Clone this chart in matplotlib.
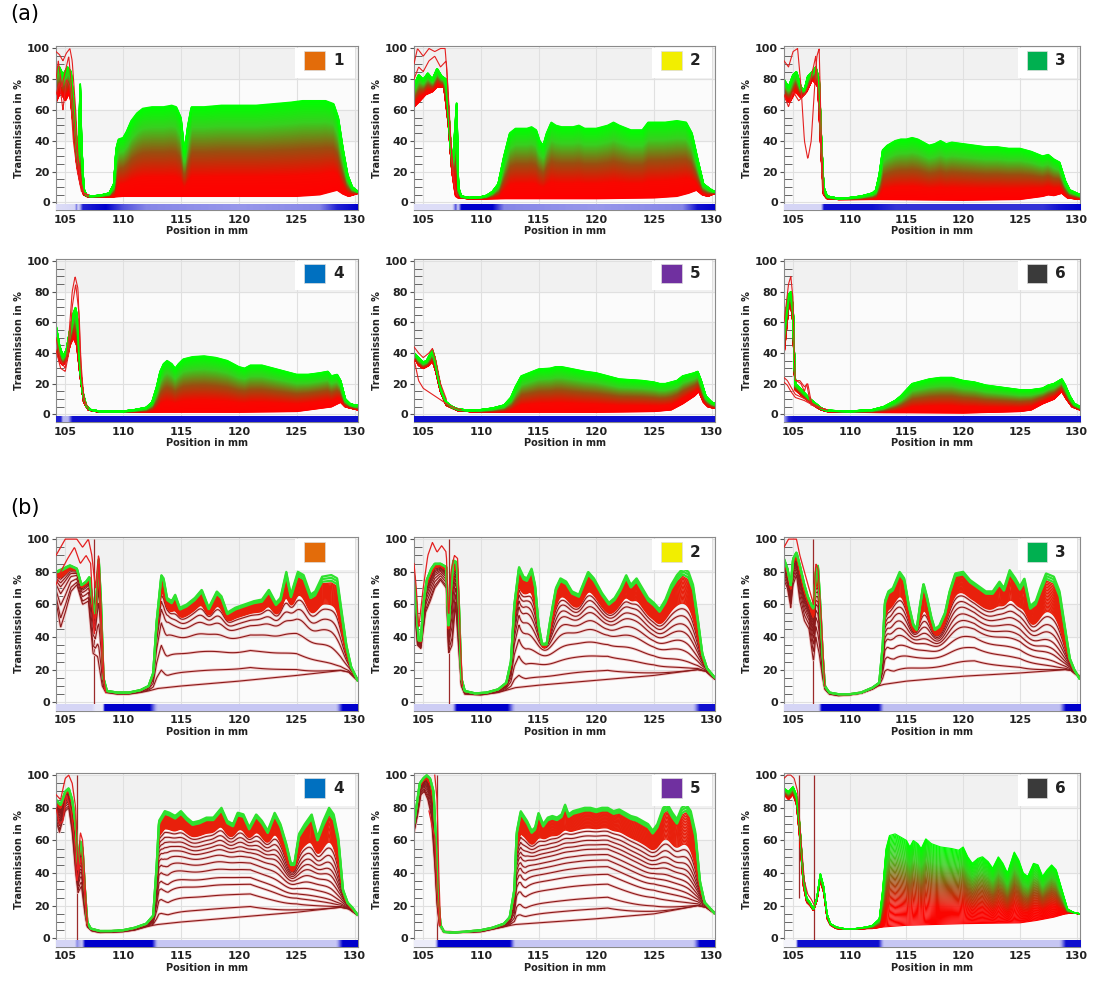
import numpy as np
import matplotlib
matplotlib.use("Agg")
import matplotlib.pyplot as plt
from matplotlib.collections import LineCollection
from matplotlib.colors import LinearSegmentedColormap
from matplotlib.patches import Rectangle
from matplotlib.ticker import MultipleLocator

# ---- data: (position mm, transmission %) knots ----
# top = last (green) curve, low = first curve, extra = stray red traces

A1_TOP = [(104.2, 88), (104.5, 88), (104.8, 83), (105.2, 88), (105.5, 85), (105.8, 60), (106.0, 38), (106.15, 30),
          (106.3, 80), (106.4, 40), (106.6, 9), (106.8, 5), (107.2, 4), (108.0, 4.5), (108.8, 6), (109.2, 12),
          (109.4, 35), (109.6, 41), (110.0, 42), (110.3, 46), (110.7, 53), (111.2, 58), (111.7, 61), (112.5, 62),
          (113.5, 62), (114.2, 63), (114.6, 62), (115.0, 55), (115.3, 33), (115.6, 50), (115.9, 62), (117.0, 62),
          (118.5, 63), (120.0, 63), (121.5, 63), (123.0, 64), (124.5, 65), (125.5, 66), (126.5, 66), (127.5, 66),
          (128.2, 64), (128.6, 55), (129.0, 35), (129.4, 18), (129.8, 10), (130.3, 7)]
A1_LOW = [(104.2, 65), (104.6, 72), (105.0, 66), (105.4, 72), (105.7, 50), (106.0, 25), (106.3, 12), (106.6, 5),
          (107.0, 3.5), (109.0, 3.5), (110.0, 4), (120.0, 4), (125.0, 4), (127.0, 5), (128.0, 7), (128.5, 8),
          (129.0, 5.5), (129.5, 4), (130.3, 6)]
A1_EXTRA = [
    [(104.2, 98), (104.5, 96), (104.8, 92), (105.1, 97), (105.4, 100), (105.6, 92), (105.9, 60), (106.1, 30),
     (106.3, 15), (106.6, 6), (107.0, 5)],
    [(104.2, 80), (104.4, 92), (104.7, 75), (105.0, 85), (105.3, 95), (105.6, 70), (105.9, 40), (106.2, 20),
     (106.5, 8)],
    [(104.2, 70), (104.5, 78), (104.8, 60), (105.1, 80), (105.4, 75), (105.7, 40), (106.0, 22), (106.4, 7),
     (107.0, 4)],
]
A1_BAR = [(104.2, 0.15), (105.8, 0.2), (105.95, 0.7), (106.1, 0.2), (106.5, 0.9), (108.5, 1.0), (110.0, 0.75),
          (112.0, 0.6), (120.0, 0.55), (127.0, 0.6), (128.5, 0.9), (130.3, 1.0)]

A2_TOP = [(104.2, 76), (104.6, 83), (105.0, 80), (105.4, 84), (105.8, 80), (106.2, 87), (106.6, 82), (107.0, 80),
          (107.2, 60), (107.4, 35), (107.6, 30), (107.9, 65), (108.05, 10), (108.3, 4), (109.0, 3), (110.0, 3.5),
          (110.5, 4.5), (111.0, 7), (111.5, 12), (112.0, 30), (112.5, 45), (113.0, 48), (114.0, 48), (114.4, 49),
          (114.8, 47), (115.1, 40), (115.4, 37), (115.7, 45), (116.1, 52), (116.5, 50), (117.0, 49), (118.0, 49),
          (118.5, 50), (119.0, 48), (120.0, 48), (121.0, 50), (121.5, 52), (122.0, 50), (123.0, 47), (124.0, 47),
          (124.5, 52), (125.0, 52), (126.0, 52), (127.0, 53), (127.8, 52), (128.3, 45), (128.8, 28), (129.3, 12),
          (130.0, 8), (130.3, 7)]
A2_LOW = [(104.2, 62), (104.6, 65), (105.2, 70), (105.8, 72), (106.2, 75), (106.8, 75), (107.2, 50), (107.5, 20),
          (107.8, 4), (108.0, 3), (109.0, 2.5), (112.0, 2.5), (120.0, 2.5), (125.0, 3), (127.0, 4), (128.0, 6),
          (128.7, 8), (129.2, 5), (129.7, 4), (130.3, 6)]
A2_EXTRA = [
    [(104.2, 90), (104.5, 100), (105.0, 95), (105.5, 100), (106.0, 98), (106.5, 100), (106.9, 100), (107.1, 80),
     (107.4, 40), (107.7, 10), (108.0, 4)],
    [(104.2, 80), (104.6, 88), (105.0, 85), (105.5, 92), (106.0, 95), (106.5, 88), (107.0, 92), (107.3, 50),
     (107.6, 15), (107.9, 5)],
]
A2_BAR = [(104.2, 0.15), (107.5, 0.15), (107.8, 0.8), (108.0, 0.3), (108.3, 1.0), (111.0, 1.0), (112.0, 0.6),
          (120.0, 0.55), (127.5, 0.6), (128.8, 0.95), (130.3, 1.0)]

A3_TOP = [(104.2, 80), (104.6, 75), (105.0, 83), (105.3, 85), (105.7, 75), (106.0, 73), (106.3, 82), (106.7, 85),
          (107.0, 88), (107.3, 80), (107.5, 40), (107.7, 10), (108.0, 4), (109.0, 2.5), (110.0, 3), (111.0, 4),
          (112.0, 6), (112.3, 8), (112.6, 18), (112.9, 34), (113.3, 37), (114.0, 40), (114.5, 41), (115.0, 41),
          (115.5, 42), (116.0, 41), (116.5, 39), (117.0, 37), (117.5, 38), (118.0, 40), (118.5, 38), (119.0, 39),
          (120.0, 38), (121.0, 37), (122.0, 36), (123.0, 36), (124.0, 35), (125.0, 35), (126.0, 33), (127.0, 30),
          (127.5, 31), (128.0, 28), (128.5, 26), (129.0, 14), (129.4, 8), (130.0, 6), (130.3, 5)]
A3_LOW = [(104.2, 68), (104.7, 65), (105.2, 72), (105.7, 68), (106.2, 72), (106.7, 80), (107.2, 75), (107.5, 30),
          (107.7, 5), (108.0, 2.5), (109.0, 2), (112.0, 2), (120.0, 1.5), (125.0, 2), (127.0, 4), (127.5, 5),
          (128.0, 4.5), (128.7, 6), (129.2, 3), (130.3, 2)]
A3_EXTRA = [
    [(104.2, 92), (104.6, 88), (105.0, 98), (105.4, 100), (105.7, 75), (106.0, 40), (106.3, 28), (106.6, 40),
     (106.9, 75), (107.1, 95), (107.3, 100), (107.5, 40), (107.7, 5)],
    [(104.2, 70), (104.6, 62), (105.0, 72), (105.5, 66), (106.0, 70), (106.5, 78), (107.0, 95), (107.3, 60),
     (107.6, 8)],
]
A3_BAR = [(104.2, 0.2), (107.4, 0.2), (107.7, 0.95), (112.0, 0.95), (114.0, 0.85), (127.0, 0.85), (128.5, 0.95),
          (130.3, 1.0)]

A4_TOP = [(104.2, 58), (104.5, 45), (104.8, 38), (105.1, 42), (105.4, 55), (105.7, 66), (105.9, 70), (106.1, 60),
          (106.3, 30), (106.5, 15), (106.8, 6), (107.2, 3), (108.0, 2), (110.0, 2), (111.0, 3), (112.0, 4.5),
          (112.5, 8), (112.9, 18), (113.2, 28), (113.5, 33), (113.8, 35), (114.2, 33), (114.5, 30), (114.8, 33),
          (115.2, 36), (116.0, 37.5), (117.0, 38), (118.0, 37), (119.0, 35), (120.0, 31), (120.5, 30), (121.0, 32),
          (122.0, 32), (123.0, 30), (124.0, 28), (125.0, 26), (126.0, 26), (127.0, 27), (127.7, 28), (128.0, 25),
          (128.5, 26), (128.8, 22), (129.2, 10), (129.6, 7), (130.0, 6), (130.3, 6)]
A4_LOW = [(104.2, 45), (104.5, 35), (104.8, 32), (105.1, 35), (105.4, 45), (105.7, 50), (106.0, 45), (106.3, 25),
          (106.6, 8), (107.0, 3), (108.0, 1.5), (112.0, 1.5), (120.0, 1.5), (125.0, 2), (127.0, 4), (128.0, 5),
          (128.8, 8), (129.2, 5), (130.3, 3)]
A4_EXTRA = [
    [(104.2, 50), (104.6, 35), (105.0, 30), (105.3, 50), (105.6, 80), (105.85, 90), (106.1, 82), (106.3, 40),
     (106.6, 10), (107.0, 4)],
    [(104.2, 42), (104.6, 30), (105.0, 28), (105.3, 40), (105.6, 70), (105.9, 85), (106.2, 65), (106.4, 25),
     (106.7, 6)],
]
A4_BAR = [(104.2, 0.9), (104.6, 0.9), (104.8, 0.4), (105.2, 0.4), (105.6, 0.95), (130.3, 0.95)]

A5_TOP = [(104.2, 40), (104.6, 37), (105.0, 34), (105.3, 35), (105.5, 38), (105.8, 42), (106.0, 37), (106.3, 25),
          (106.6, 15), (107.0, 8), (107.5, 5), (108.0, 3.5), (109.0, 2.5), (110.0, 3), (111.0, 4), (112.0, 6),
          (112.6, 11), (113.0, 18), (113.5, 25), (114.5, 28), (115.0, 29.5), (116.0, 30), (116.5, 31), (117.0, 31),
          (118.0, 29.5), (119.0, 28), (120.0, 27), (121.0, 25), (122.0, 23), (123.0, 22.5), (124.0, 22), (125.0, 21),
          (125.5, 20), (126.0, 20), (126.5, 21), (127.0, 22), (127.5, 25), (128.0, 26), (128.5, 27), (128.8, 28),
          (129.1, 22), (129.5, 12), (130.0, 8), (130.3, 7)]
A5_LOW = [(104.2, 38), (104.6, 32), (105.0, 30), (105.5, 32), (105.8, 35), (106.1, 28), (106.5, 15), (107.0, 6),
          (108.0, 2.5), (110.0, 1.5), (115.0, 1.5), (120.0, 1.5), (125.0, 2), (126.5, 3), (127.5, 7), (128.5, 12),
          (128.9, 15), (129.3, 8), (129.7, 5), (130.3, 4)]
A5_EXTRA = [
    [(104.2, 36), (104.6, 22), (105.0, 17), (105.6, 14), (106.2, 11), (106.8, 8), (107.2, 6), (107.8, 4),
     (108.3, 3)],
    [(104.2, 44), (104.6, 40), (105.0, 37), (105.5, 40), (105.8, 43), (106.1, 35), (106.5, 20), (107.0, 10)],
]
A5_BAR = [(104.2, 0.95), (130.3, 0.95)]

A6_TOP = [(104.2, 55), (104.4, 68), (104.6, 78), (104.8, 80), (105.0, 70), (105.1, 40), (105.2, 20), (105.5, 18),
          (106.0, 14), (106.5, 10), (107.0, 7), (107.5, 4), (108.0, 2.5), (110.0, 2), (112.0, 3), (113.0, 5),
          (114.0, 9), (114.5, 12), (115.0, 16), (115.5, 20), (116.0, 21), (117.0, 23), (118.0, 24), (119.0, 24),
          (120.0, 22), (121.0, 21), (122.0, 19), (123.0, 18), (124.0, 17), (125.0, 16), (126.0, 16), (127.0, 17),
          (127.5, 19), (128.0, 20), (128.7, 23), (129.0, 19), (129.4, 12), (129.8, 7), (130.3, 5)]
A6_LOW = [(104.2, 40), (104.4, 55), (104.6, 70), (104.8, 72), (105.0, 60), (105.1, 35), (105.2, 16), (105.5, 14),
          (106.0, 11), (106.5, 8), (107.0, 5), (107.5, 3), (108.0, 2), (110.0, 1.5), (120.0, 1), (125.0, 2),
          (126.0, 3), (127.0, 7), (128.0, 10), (128.7, 15), (129.1, 10), (129.6, 5), (130.3, 3)]
A6_EXTRA = [
    [(104.2, 60), (104.4, 72), (104.6, 85), (104.8, 90), (105.0, 75), (105.1, 40), (105.2, 22), (105.6, 22),
     (106.0, 18), (106.3, 20), (106.5, 12), (106.7, 6), (107.0, 5)],
    [(104.2, 24), (104.5, 22), (104.8, 18), (105.2, 13), (105.8, 11), (106.5, 8), (107.0, 6), (107.5, 4),
     (108.0, 3)],
    [(104.2, 21), (104.5, 19), (104.8, 15), (105.2, 11), (106.0, 9), (107.0, 5), (108.0, 3)],
    [(105.3, 22), (105.7, 20), (106.0, 15), (106.2, 20), (106.4, 12), (106.6, 6)],
]
A6_BAR = [(104.2, 0.5), (104.6, 0.9), (105.0, 0.95), (130.3, 0.95)]

B1_TOP = [(104.2, 80), (104.8, 82), (105.4, 84), (106.0, 82), (106.4, 72), (106.8, 74), (107.1, 77), (107.4, 60),
          (107.6, 55), (107.9, 88), (108.1, 60), (108.3, 15), (108.6, 7), (109.5, 6), (110.5, 6), (111.5, 7.5),
          (112.2, 10), (112.6, 18), (112.9, 50), (113.3, 78), (113.5, 76), (113.8, 64), (114.2, 62), (114.5, 66),
          (114.9, 58), (115.5, 60), (116.2, 64), (116.8, 69), (117.4, 58), (118.1, 68), (118.5, 65), (119.0, 55),
          (119.7, 58), (120.5, 60), (121.3, 62), (122.0, 63), (122.6, 69), (123.2, 61), (123.6, 64), (124.1, 80),
          (124.5, 66), (125.1, 80), (125.6, 78), (126.2, 66), (126.6, 68), (127.2, 77), (128.0, 78), (128.5, 76),
          (128.9, 55), (129.3, 35), (129.7, 22), (130.3, 13)]
B1_LOW = [(104.2, 62), (104.6, 46), (105.0, 55), (105.5, 68), (106.0, 72), (106.5, 60), (107.0, 62), (107.4, 30),
          (107.8, 28), (108.2, 10), (108.5, 6), (109.5, 5), (110.5, 5), (111.5, 6), (112.2, 7), (113.0, 8.5),
          (115.0, 10), (120.0, 13), (125.0, 16.5), (128.8, 19.5), (129.5, 18.5), (130.3, 13)]
B1_EXTRA = [
    [(104.2, 90), (104.6, 95), (105.0, 100), (105.5, 100), (106.0, 100), (106.5, 95), (107.0, 100), (107.3, 90),
     (107.6, 70), (107.9, 92), (108.2, 40), (108.4, 8)],
    [(104.2, 72), (104.6, 80), (105.2, 88), (105.8, 95), (106.3, 85), (106.8, 90), (107.2, 85), (107.5, 40),
     (107.9, 85), (108.2, 20), (108.5, 6)],
]
B1_LEVELS = [0, 0.16, 0.38, 0.58, 0.70, 0.77, 0.83]
B1_VLINES = [(107.5, -3)]
B1_BAR = [(104.2, 0.2), (107.3, 0.2), (107.6, 0.08), (108.2, 0.08), (108.4, 1.0), (112.3, 1.0), (113.0, 0.3),
          (128.4, 0.3), (129.0, 1.0), (130.3, 1.0)]

B2_TOP = [(104.2, 78), (104.4, 60), (104.6, 38), (104.8, 38), (105.0, 60), (105.3, 75), (105.7, 82), (106.0, 85),
          (106.5, 85), (107.0, 83), (107.2, 45), (107.4, 70), (107.6, 87), (107.9, 86), (108.1, 60), (108.3, 15),
          (108.6, 7), (109.5, 5.5), (110.5, 6), (111.5, 8), (112.2, 12), (112.6, 25), (112.9, 60), (113.3, 83),
          (113.7, 77), (114.0, 76), (114.4, 82), (114.7, 72), (115.0, 48), (115.3, 36), (115.7, 36), (116.0, 50),
          (116.5, 70), (116.9, 76), (117.4, 74), (117.9, 68), (118.5, 66), (119.3, 80), (119.8, 76), (120.5, 67),
          (121.1, 61), (121.6, 64), (122.1, 70), (122.6, 78), (123.0, 72), (123.5, 76), (124.0, 70), (124.5, 64),
          (125.0, 61), (125.5, 57), (126.0, 63), (126.5, 72), (127.0, 78), (127.5, 82), (128.0, 80), (128.4, 72),
          (128.8, 52), (129.2, 30), (129.6, 21), (130.3, 15)]
B2_LOW = [(104.2, 60), (104.5, 35), (104.8, 33), (105.2, 55), (105.6, 62), (106.0, 70), (106.5, 75), (107.0, 70),
          (107.2, 30), (107.5, 35), (107.8, 60), (108.1, 30), (108.3, 10), (108.6, 5), (110.0, 4.5), (111.5, 6),
          (112.5, 8), (113.0, 9), (115.0, 10.5), (120.0, 13.5), (125.0, 16.5), (128.8, 20), (129.5, 19), (130.3, 14)]
B2_EXTRA = [
    [(104.2, 85), (104.4, 70), (104.6, 45), (105.0, 70), (105.4, 90), (105.8, 98), (106.2, 92), (106.6, 96),
     (107.0, 92), (107.2, 50), (107.4, 80), (107.7, 90), (108.0, 88), (108.2, 40), (108.4, 10)],
]
B2_LEVELS = [0, 0.1, 0.26, 0.4, 0.52, 0.6, 0.67, 0.72, 0.77, 0.81]
B2_VLINES = [(107.25, -3)]
B2_BAR = [(104.2, 0.25), (107.5, 0.25), (107.9, 1.0), (112.3, 1.0), (113.0, 0.3), (128.4, 0.3), (129.0, 0.95),
          (130.3, 0.95)]

B3_TOP = [(104.2, 88), (104.5, 82), (104.8, 72), (105.0, 88), (105.3, 92), (105.6, 84), (106.0, 72), (106.3, 65),
          (106.6, 60), (106.8, 58), (107.0, 80), (107.2, 84), (107.4, 60), (107.6, 30), (107.8, 10), (108.2, 6),
          (109.0, 5), (110.0, 5), (111.0, 6), (112.0, 9), (112.6, 12), (112.9, 35), (113.1, 62), (113.4, 68),
          (113.8, 70), (114.4, 80), (114.8, 76), (115.2, 60), (115.6, 48), (115.9, 45), (116.2, 60), (116.5, 73),
          (116.8, 65), (117.2, 52), (117.5, 45), (117.9, 47), (118.4, 55), (118.8, 68), (119.3, 79), (120.0, 80),
          (120.6, 75), (121.4, 71), (122.0, 68), (122.6, 68), (123.2, 74), (123.6, 70), (124.1, 81), (124.6, 76),
          (125.0, 71), (125.4, 76), (125.9, 59), (126.4, 62), (126.8, 70), (127.3, 79), (128.0, 77), (128.5, 68),
          (129.0, 45), (129.4, 27), (129.8, 20), (130.3, 14)]
B3_LOW = [(104.2, 75), (104.5, 70), (104.8, 58), (105.0, 72), (105.3, 78), (105.6, 62), (106.0, 50), (106.4, 45),
          (106.8, 25), (107.0, 40), (107.3, 30), (107.6, 15), (107.8, 8), (108.2, 5), (109.0, 4), (110.0, 4.5),
          (111.0, 5.5), (112.0, 8), (112.5, 10), (113.0, 11), (115.0, 13), (120.0, 16), (125.0, 18), (129.0, 20),
          (129.5, 19.5), (130.3, 15)]
B3_EXTRA = [
    [(104.2, 95), (104.6, 100), (105.0, 100), (105.3, 100), (105.6, 90), (106.0, 80), (106.4, 70), (106.8, 60),
     (107.0, 85), (107.2, 82), (107.5, 50), (107.8, 10)],
]
B3_LEVELS = [0, 0.16, 0.3, 0.41, 0.5, 0.56, 0.62, 0.68, 0.73, 0.78]
B3_VLINES = [(106.8, -3)]
B3_BAR = [(104.2, 0.2), (107.2, 0.2), (107.5, 1.0), (112.5, 1.0), (113.0, 0.35), (128.4, 0.35), (129.0, 1.0),
          (130.3, 1.0)]

B4_TOP = [(104.2, 85), (104.6, 82), (105.0, 90), (105.3, 92), (105.6, 85), (105.9, 70), (106.1, 45), (106.3, 60),
          (106.5, 55), (106.7, 30), (106.9, 10), (107.2, 6), (108.0, 4.5), (109.0, 4.5), (110.0, 5), (111.0, 6.5),
          (112.0, 9), (112.6, 14), (112.9, 45), (113.1, 72), (113.6, 78), (114.0, 77), (114.5, 75), (115.0, 78),
          (115.5, 74), (116.0, 71), (116.6, 72), (117.2, 74), (117.8, 74), (118.5, 80), (119.0, 72), (119.5, 70),
          (119.9, 77), (120.4, 76), (120.9, 68), (121.5, 76), (122.0, 72), (122.5, 66), (123.1, 77), (123.6, 70),
          (124.1, 58), (124.5, 46), (124.8, 46), (125.2, 64), (125.7, 70), (126.3, 76), (126.8, 62), (127.3, 72),
          (127.8, 80), (128.2, 76), (128.6, 62), (129.0, 30), (129.4, 22), (129.8, 19), (130.3, 14)]
B4_LOW = [(104.2, 72), (104.5, 65), (105.0, 78), (105.3, 80), (105.6, 65), (105.9, 40), (106.1, 28), (106.4, 32),
          (106.7, 15), (106.9, 7), (107.3, 4.5), (108.0, 3.5), (110.0, 4), (111.0, 5), (112.0, 7), (112.6, 8),
          (113.0, 8.5), (115.0, 10), (120.0, 13), (125.0, 16), (128.8, 19), (129.5, 18), (130.3, 14)]
B4_EXTRA = [
    [(104.2, 88), (104.6, 85), (105.0, 98), (105.3, 100), (105.6, 95), (105.9, 80), (106.1, 40), (106.3, 65),
     (106.5, 60), (106.7, 35), (106.9, 10)],
    [(104.2, 80), (104.5, 70), (104.8, 72), (105.1, 88), (105.5, 78), (105.8, 60), (106.0, 35), (106.4, 50),
     (106.7, 25), (106.9, 8)],
]
B4_LEVELS = [0, 0.1, 0.23, 0.33, 0.4, 0.48, 0.55, 0.61, 0.66, 0.7, 0.74, 0.78, 0.82]
B4_VLINES = [(106.0, -3)]
B4_BAR = [(104.2, 0.2), (105.8, 0.2), (106.0, 0.6), (106.4, 0.3), (106.7, 1.0), (112.5, 1.0), (113.0, 0.3),
          (128.4, 0.3), (129.0, 1.0), (130.3, 1.0)]

B5_TOP = [(104.2, 70), (104.4, 80), (104.7, 95), (105.0, 98), (105.3, 100), (105.6, 98), (105.9, 90), (106.1, 60),
          (106.3, 25), (106.5, 8), (106.8, 4), (107.5, 3.5), (108.5, 4), (110.0, 5), (111.0, 6.5), (112.0, 9),
          (112.5, 13), (112.9, 30), (113.1, 65), (113.45, 78), (114.0, 72), (114.4, 66), (114.7, 68), (115.0, 77),
          (115.4, 70), (115.8, 74), (116.2, 75), (116.6, 74), (117.0, 76), (117.3, 82), (117.6, 76), (118.0, 78),
          (118.5, 79), (119.0, 80), (119.5, 80), (120.0, 79), (120.5, 80), (121.0, 80), (121.5, 78), (122.0, 79),
          (122.5, 77), (123.0, 75), (123.5, 74), (124.0, 72), (124.5, 70), (124.9, 66), (125.3, 70), (125.8, 80),
          (126.2, 82), (126.6, 77), (127.0, 73), (127.4, 80), (127.8, 82), (128.2, 78), (128.6, 65), (129.0, 35),
          (129.4, 22), (129.8, 19), (130.3, 15)]
B5_LOW = [(104.2, 65), (104.5, 75), (104.8, 88), (105.1, 90), (105.4, 85), (105.7, 75), (106.0, 45), (106.2, 20),
          (106.4, 8), (106.8, 4), (108.0, 3.5), (110.0, 4), (111.0, 5.5), (112.0, 7), (112.6, 8), (113.0, 8.5),
          (115.0, 9.5), (120.0, 12), (125.0, 15), (128.8, 20), (129.5, 19), (130.3, 15)]
B5_EXTRA = [
    [(105.5, 78), (105.8, 68), (106.0, 62), (106.2, 30), (106.4, 8)],
    [(106.0, 100), (106.2, 85), (106.35, 40), (106.5, 8)],
]
B5_LEVELS = [0, 0.09, 0.19, 0.31, 0.4, 0.47, 0.53, 0.58, 0.63, 0.67, 0.71, 0.75, 0.79]
B5_VLINES = [(106.2, -3)]
B5_BAR = [(104.2, 0.05), (106.0, 0.05), (106.3, 1.0), (112.5, 1.0), (113.0, 0.3), (128.4, 0.3), (129.0, 1.0),
          (130.3, 1.0)]

B6_TOP = [(104.2, 92), (104.6, 90), (105.0, 93), (105.3, 88), (105.6, 70), (105.9, 40), (106.2, 25), (106.5, 22),
          (106.8, 18), (107.1, 25), (107.4, 40), (107.7, 32), (108.0, 15), (108.3, 9), (108.8, 7), (109.5, 6),
          (110.5, 6), (111.5, 7), (112.0, 8), (112.6, 12), (112.9, 30), (113.2, 55), (113.5, 63), (114.0, 64),
          (114.5, 62), (115.0, 60), (115.3, 56), (115.6, 60), (116.0, 58), (116.3, 55), (116.7, 61), (117.2, 58),
          (118.0, 56), (119.0, 55), (119.6, 54), (120.0, 56), (120.4, 50), (120.8, 46), (121.3, 49), (121.7, 50),
          (122.2, 47), (122.6, 43), (123.1, 50), (123.5, 46), (123.9, 40), (124.5, 53), (124.9, 48), (125.3, 40),
          (125.7, 38), (126.2, 46), (126.6, 45), (127.0, 38), (127.4, 42), (127.8, 45), (128.2, 42), (128.7, 30),
          (129.2, 18), (129.7, 16), (130.3, 15)]
B6_LOW = [(104.2, 88), (104.6, 85), (105.0, 88), (105.3, 82), (105.6, 60), (105.9, 32), (106.2, 22), (106.5, 20),
          (106.8, 17), (107.1, 23), (107.4, 35), (107.7, 28), (108.0, 12), (108.3, 8), (108.8, 6), (109.5, 5.5),
          (110.5, 5.5), (111.5, 6), (112.0, 6), (113.0, 7), (115.0, 8), (120.0, 9), (125.0, 9.5), (126.5, 11),
          (128.0, 13), (129.0, 15), (129.6, 15.5), (130.3, 15)]
B6_EXTRA = [
    [(104.2, 98), (104.5, 100), (104.8, 100), (105.1, 98), (105.4, 90), (105.7, 60), (106.0, 35), (106.3, 27),
     (106.6, 24), (106.9, 20)],
]
B6_VLINES = [(105.5, 25), (106.85, -3)]
B6_BAR = [(104.2, 0.0), (105.2, 0.0), (105.4, 0.95), (112.5, 0.95), (113.0, 0.3), (128.4, 0.3), (129.0, 0.95),
          (130.3, 0.95)]

# curves above the first one drift back toward it on the right side (b panels)
B_SKEW = [(104.2, 1.0), (121.0, 1.0), (125.0, 1.5), (128.0, 2.4), (129.5, 3.0), (130.3, 3.0)]

SAMPLE_COLORS = ["#E36C0A", "#F2EE00", "#00B050", "#0070C0", "#7030A0", "#3A3A3A"]
SAMPLE_NUMBERS = ["1", "2", "3", "4", "5", "6"]

XMIN, XMAX = 104.2, 130.3
YMIN, YMAX = -5.3, 101.3
BAR_TOP = -1.6
XS = np.linspace(XMIN, XMAX, 700)

RG_CMAP = LinearSegmentedColormap.from_list(
    "rg", [(0.0, "#ff0000"), (0.22, "#f80800"), (0.5, "#9a5010"), (0.78, "#38d020"), (1.0, "#00ff00")])
BAR_CMAP = LinearSegmentedColormap.from_list("bar", ["#f4f4fb", "#a8a8ee", "#0000cc"])


def knots(pairs, xs=XS):
    kx, ky = zip(*pairs)
    return np.interp(xs, kx, ky)


def smooth(y, sigma):
    if sigma < 0.05:
        return y
    dx = XS[1] - XS[0]
    half = int(3 * sigma / dx)
    k = np.exp(-0.5 * ((np.arange(-half, half + 1) * dx) / sigma) ** 2)
    k /= k.sum()
    return np.convolve(np.pad(y, half, mode="edge"), k, mode="valid")


def draw_extras(ax, extras, color, lw):
    for ex in extras:
        ex_x = np.linspace(ex[0][0], ex[-1][0], 80)
        ax.plot(ex_x, knots(ex, ex_x), color=color, lw=lw, zorder=3)


def gradient_family(ax, top, low, n, lw):
    t = knots(top)
    lo = knots(low)
    w = np.linspace(0, 1, n)
    segs = [np.column_stack([XS, lo + wi * (t - lo)]) for wi in w]
    ax.add_collection(LineCollection(segs, colors=RG_CMAP(w), linewidths=lw, zorder=2))


def spread_family(ax, top, low, levels):
    t = knots(top)
    lo = knots(low)
    p = knots(B_SKEW)
    # lower curves follow a smoothed version of the last curve on the plateau
    m = np.clip((XS - 113.3) / 0.6, 0, 1)

    def curve(wi):
        ts = t * (1 - m) + smooth(t, 1.4 * (1 - wi)) * m
        return lo + (wi ** p) * (ts - lo)

    dark = [np.column_stack([XS, curve(wi)]) for wi in levels]
    ax.add_collection(LineCollection(dark, colors="#f2c4c4", linewidths=2.0, zorder=2))
    ax.add_collection(LineCollection(dark, colors="#8b1a1a", linewidths=0.8, zorder=2.1))
    dense = np.linspace(levels[-1] + 0.03, 0.965, 22)
    red = [np.column_stack([XS, curve(wi)]) for wi in dense]
    ax.add_collection(LineCollection(red, colors="#e8200c", linewidths=1.0, zorder=2.2))
    green = [np.column_stack([XS, curve(wi)]) for wi in (0.975, 0.988, 1.0)]
    ax.add_collection(LineCollection(green, colors="#2fe22f", linewidths=1.6, zorder=2.3))


def style_axes(ax, idx, label_num):
    ax.set_xlim(XMIN, XMAX)
    ax.set_ylim(YMIN, YMAX)
    ax.set_facecolor("#fbfbfb")
    ax.axhspan(80, 100, color="#f1f1f1", zorder=0)
    ax.axhspan(40, 60, color="#f4f4f4", zorder=0)
    ax.set_axisbelow(True)
    ax.grid(True, which="major", color="#e0e0e0", lw=0.8)
    ax.set_xticks([105, 110, 115, 120, 125, 130])
    ax.set_yticks([0, 20, 40, 60, 80, 100])
    ax.yaxis.set_minor_locator(MultipleLocator(5))
    ax.tick_params(axis="x", length=0, pad=3, labelsize=8, labelcolor="#222222")
    ax.tick_params(axis="y", which="major", length=3, width=0.8, pad=1.5, labelsize=8,
                   labelcolor="#222222", color="#555555")
    ax.tick_params(axis="y", which="minor", direction="in", length=6, width=0.7, color="#666666")
    for lab in ax.get_xticklabels() + ax.get_yticklabels():
        lab.set_fontweight("bold")
    for sp in ax.spines.values():
        sp.set_color("#8a8a8a")
        sp.set_linewidth(0.8)
    ax.set_xlabel("Position in mm", fontsize=7, fontweight="bold", labelpad=1, color="#222222")
    ax.set_ylabel("Transmission in %", fontsize=7, fontweight="bold", labelpad=2, color="#222222")

    # sample legend box
    ax.add_patch(Rectangle((0.79, 0.81), 0.2, 0.18, transform=ax.transAxes, fc="white", ec="none", zorder=6))
    ax.add_patch(Rectangle((0.82, 0.855), 0.07, 0.115, transform=ax.transAxes,
                           fc=SAMPLE_COLORS[idx], ec="#dddddd", lw=0.5, zorder=7))
    if label_num:
        ax.text(0.935, 0.912, SAMPLE_NUMBERS[idx], transform=ax.transAxes, ha="center", va="center",
                fontsize=11, fontweight="bold", color="#222222", zorder=8)


def draw_bar(ax, bar):
    v = knots(bar, np.linspace(XMIN, XMAX, 600))
    img = np.vstack([v, v])
    ax.imshow(img, extent=[XMIN, XMAX, YMIN, BAR_TOP], aspect="auto", cmap=BAR_CMAP,
              vmin=0, vmax=1, interpolation="bilinear", zorder=5)
    ax.set_xlim(XMIN, XMAX)
    ax.set_ylim(YMIN, YMAX)


W, H = 1094, 988
COL_L = [56, 414, 784]
COL_W = [302, 301, 296]
ROW_T = [46.5, 259, 537, 773]
ROW_B = [210.5, 422.5, 711, 947]

A_PANELS = [
    (A1_TOP, A1_LOW, A1_EXTRA, A1_BAR),
    (A2_TOP, A2_LOW, A2_EXTRA, A2_BAR),
    (A3_TOP, A3_LOW, A3_EXTRA, A3_BAR),
    (A4_TOP, A4_LOW, A4_EXTRA, A4_BAR),
    (A5_TOP, A5_LOW, A5_EXTRA, A5_BAR),
    (A6_TOP, A6_LOW, A6_EXTRA, A6_BAR),
]
B_PANELS = [
    (B1_TOP, B1_LOW, B1_EXTRA, B1_BAR, B1_LEVELS, B1_VLINES),
    (B2_TOP, B2_LOW, B2_EXTRA, B2_BAR, B2_LEVELS, B2_VLINES),
    (B3_TOP, B3_LOW, B3_EXTRA, B3_BAR, B3_LEVELS, B3_VLINES),
    (B4_TOP, B4_LOW, B4_EXTRA, B4_BAR, B4_LEVELS, B4_VLINES),
    (B5_TOP, B5_LOW, B5_EXTRA, B5_BAR, B5_LEVELS, B5_VLINES),
    (B6_TOP, B6_LOW, B6_EXTRA, B6_BAR, None, B6_VLINES),
]


def make_axes(fig, row, col):
    l, w = COL_L[col], COL_W[col]
    t, b = ROW_T[row], ROW_B[row]
    return fig.add_axes([l / W, 1 - b / H, w / W, (b - t) / H])


fig = plt.figure(figsize=(W / 100, H / 100), dpi=100)

for i, (top, low, extra, bar) in enumerate(A_PANELS):
    ax = make_axes(fig, i // 3, i % 3)
    style_axes(ax, i, True)
    gradient_family(ax, top, low, 150, 1.2)
    draw_extras(ax, extra, "#e42020", 0.8)
    draw_bar(ax, bar)

for i, (top, low, extra, bar, levels, vl) in enumerate(B_PANELS):
    ax = make_axes(fig, 2 + i // 3, i % 3)
    style_axes(ax, i, i != 0)
    for vx, vy0 in vl:
        ax.vlines(vx, vy0, 100, color="#9b2a2a", lw=0.9, zorder=2)
    if levels is None:
        gradient_family(ax, top, low, 80, 0.8)
        draw_extras(ax, extra, "#d42020", 0.8)
    else:
        draw_extras(ax, extra, "#e42020", 0.9)
        spread_family(ax, top, low, levels)
    draw_bar(ax, bar)

fig.text(10 / W, 1 - 4 / H, "(a)", fontsize=15, va="top", ha="left")
fig.text(10 / W, 1 - 498 / H, "(b)", fontsize=15, va="top", ha="left")

fig.savefig("out.png", dpi=100, facecolor="white")
